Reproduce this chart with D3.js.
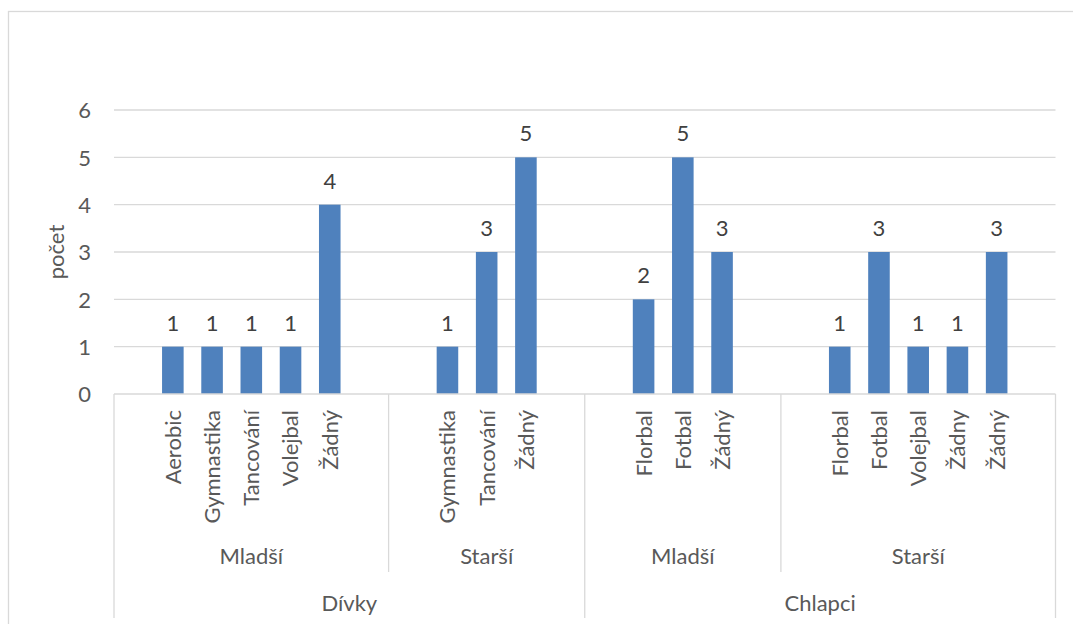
<!DOCTYPE html>
<html>
<head>
<meta charset="utf-8">
<script src="https://cdn.jsdelivr.net/npm/d3@7"></script>
<style>
  html, body { margin: 0; padding: 0; background: #ffffff; }
  svg { display: block; font-family: Lato, "Open Sans", sans-serif; }
</style>
</head>
<body>
<svg id="chart" width="1073" height="624"></svg>
<script>
// Sports by sex and age group
const sports = ["Aerobic", "Gymnastika", "Tancování", "Volejbal", "Žádný",
                "Gymnastika", "Tancování", "Žádný",
                "Florbal", "Fotbal", "Žádný",
                "Florbal", "Fotbal", "Volejbal", "Žádny", "Žádný"];
const counts = [1, 1, 1, 1, 4,
                1, 3, 5,
                2, 5, 3,
                1, 3, 1, 1, 3];
const ageGroups = ["Mladší", "Mladší", "Mladší", "Mladší", "Mladší",
                   "Starší", "Starší", "Starší",
                   "Mladší", "Mladší", "Mladší",
                   "Starší", "Starší", "Starší", "Starší", "Starší"];
const sexGroups = ["Dívky", "Dívky", "Dívky", "Dívky", "Dívky",
                   "Dívky", "Dívky", "Dívky",
                   "Chlapci", "Chlapci", "Chlapci",
                   "Chlapci", "Chlapci", "Chlapci", "Chlapci", "Chlapci"];
const yTicks = [0, 1, 2, 3, 4, 5, 6];
const yTitle = "počet";

const svg = d3.select("#chart");
const plot = { left: 114, right: 1055.5, top: 110, bottom: 394 };
const gridColor = "#d9d9d9";
const axisText = "#595959";
const labelText = "#404040";
const barColor = "#4f81bd";
const fontSize = 22;

// Outer chart frame
svg.append("rect")
  .attr("x", 8.5).attr("y", 11.5)
  .attr("width", 1100).attr("height", 700)
  .attr("fill", "#ffffff").attr("stroke", gridColor).attr("stroke-width", 1.3);

// Build category slots: each age group gets one empty slot on either side
const rows = sports.map((s, i) => ({ i, sport: s, value: counts[i], age: ageGroups[i], sex: sexGroups[i], key: "c" + i }));
const ageRuns = [];
rows.forEach(r => {
  const last = ageRuns[ageRuns.length - 1];
  if (last && last.age === r.age && last.sex === r.sex) last.items.push(r);
  else ageRuns.push({ age: r.age, sex: r.sex, items: [r] });
});
const slots = [];
ageRuns.forEach((run, k) => {
  run.first = slots.length;
  slots.push("pad" + k + "a");
  run.items.forEach(r => slots.push(r.key));
  slots.push("pad" + k + "b");
  run.last = slots.length;
});

const x = d3.scaleBand().domain(slots).range([plot.left, plot.right]).padding(0);
const y = d3.scaleLinear().domain([0, 6]).range([plot.bottom, plot.top]);
const step = x.step();
const barW = x.bandwidth() * 0.55;

// Horizontal gridlines
svg.append("g")
  .selectAll("line").data(yTicks.filter(t => t > 0)).join("line")
  .attr("x1", plot.left).attr("x2", plot.right)
  .attr("y1", d => y(d)).attr("y2", d => y(d))
  .attr("stroke", gridColor).attr("stroke-width", 1.3);

// Y axis tick labels
const yAxis = d3.axisLeft(y).tickValues(yTicks).tickSize(0).tickPadding(0).tickFormat(d3.format("d"));
const yg = svg.append("g").attr("transform", `translate(${plot.left - 23},0)`).call(yAxis);
yg.select(".domain").remove();
yg.selectAll("text")
  .attr("font-family", "Lato, 'Open Sans', sans-serif")
  .attr("font-size", fontSize).attr("fill", axisText)
  .attr("dy", "0.36em");

// Y axis title
svg.append("text")
  .attr("transform", `translate(${64},${(plot.top + plot.bottom) / 2}) rotate(-90)`)
  .attr("text-anchor", "middle")
  .attr("font-size", fontSize).attr("fill", axisText)
  .text(yTitle);

// Bars
svg.append("g")
  .selectAll("rect").data(rows).join("rect")
  .attr("x", d => x(d.key) + (x.bandwidth() - barW) / 2)
  .attr("y", d => y(d.value))
  .attr("width", barW)
  .attr("height", d => y(0) - y(d.value))
  .attr("fill", barColor);

// Value labels
svg.append("g")
  .selectAll("text").data(rows).join("text")
  .attr("x", d => x(d.key) + x.bandwidth() / 2)
  .attr("y", d => y(d.value) - 16)
  .attr("text-anchor", "middle")
  .attr("font-size", fontSize).attr("fill", labelText)
  .text(d => d.value);

// Category axis line
svg.append("line")
  .attr("x1", plot.left).attr("x2", plot.right)
  .attr("y1", plot.bottom).attr("y2", plot.bottom)
  .attr("stroke", gridColor).attr("stroke-width", 1.3);

// Sport labels (rotated)
svg.append("g")
  .selectAll("text").data(rows).join("text")
  .attr("transform", d => `translate(${x(d.key) + x.bandwidth() / 2},${plot.bottom + 16}) rotate(-90)`)
  .attr("text-anchor", "end")
  .attr("dy", "0.36em")
  .attr("font-size", fontSize).attr("fill", axisText)
  .text(d => d.sport);

// Age group labels
const level1Bottom = 572;
const level2Bottom = 618;
ageRuns.forEach(run => {
  const x0 = x(slots[run.first]);
  const x1 = x(slots[run.last - 1]) + step;
  svg.append("text")
    .attr("x", (x0 + x1) / 2).attr("y", 564)
    .attr("text-anchor", "middle")
    .attr("font-size", fontSize).attr("fill", axisText)
    .text(run.age);
});

// Sex group labels
const sexRuns = [];
ageRuns.forEach(run => {
  const last = sexRuns[sexRuns.length - 1];
  const x0 = x(slots[run.first]);
  const x1 = x(slots[run.last - 1]) + step;
  if (last && last.sex === run.sex) last.x1 = x1;
  else sexRuns.push({ sex: run.sex, x0, x1 });
});
sexRuns.forEach(g => {
  svg.append("text")
    .attr("x", (g.x0 + g.x1) / 2).attr("y", 611)
    .attr("text-anchor", "middle")
    .attr("font-size", fontSize).attr("fill", axisText)
    .text(g.sex);
});

// Separator lines between groups
const sepG = svg.append("g").attr("stroke", gridColor).attr("stroke-width", 1.3);
ageRuns.forEach((run, k) => {
  if (k === 0) return;
  const xb = x(slots[run.first]);
  const isSexBoundary = ageRuns[k - 1].sex !== run.sex;
  sepG.append("line")
    .attr("x1", xb).attr("x2", xb)
    .attr("y1", plot.bottom).attr("y2", isSexBoundary ? level2Bottom : level1Bottom);
});
[plot.left, plot.right].forEach(xb => {
  sepG.append("line")
    .attr("x1", xb).attr("x2", xb)
    .attr("y1", plot.bottom).attr("y2", level2Bottom);
});
</script>
</body>
</html>
